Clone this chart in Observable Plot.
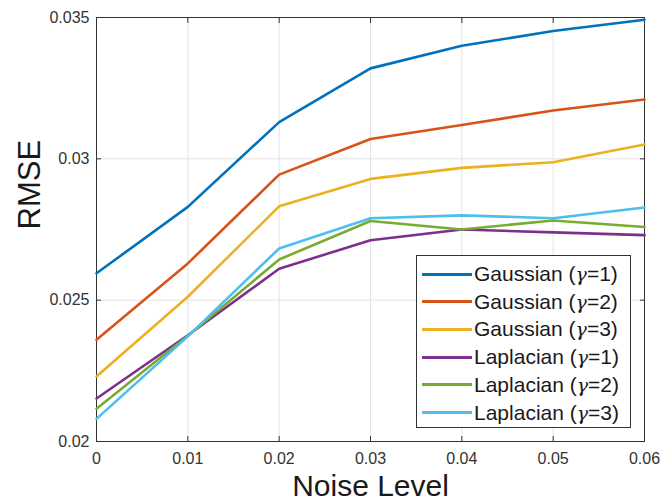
<!DOCTYPE html>
<html>
<head>
<meta charset="utf-8">
<script src="https://cdn.jsdelivr.net/npm/d3@7"></script>
<script src="https://cdn.jsdelivr.net/npm/@observablehq/plot@0.6"></script>
<style>
  body { margin: 0; background: #fff; font-family: "Liberation Sans", Arial, sans-serif; }
  #wrap { position: relative; width: 664px; height: 504px; }
  #legend { position: absolute; left: 416px; top: 255px; width: 213px; height: 171px;
    border: 1px solid #333; background: #fff; box-sizing: content-box; }
  .row { position: absolute; left: 0; height: 28px; display: flex; align-items: center; }
  .sw { width: 50px; height: 3px; margin-left: 5px; margin-right: 2px; }
  .lab { font-size: 21px; color: #1a1a1a; white-space: nowrap; }
  .lab i { font-family: "DejaVu Serif", serif; font-size: 19px; }
</style>
</head>
<body>
<div id="wrap"></div>
<script>
const noise = [0, 0.01, 0.02, 0.03, 0.04, 0.05, 0.06];
const seriesNames = ["Gaussian (γ=1)", "Gaussian (γ=2)", "Gaussian (γ=3)", "Laplacian (γ=1)", "Laplacian (γ=2)", "Laplacian (γ=3)"];
const gauss1 = [0.02595, 0.0283, 0.0313, 0.0332, 0.0340, 0.03452, 0.03492];
const gauss2 = [0.0236, 0.0263, 0.02944, 0.0307, 0.0312, 0.03171, 0.0321];
const gauss3 = [0.0223, 0.02512, 0.02832, 0.02929, 0.02968, 0.02988, 0.03051];
const lap1 = [0.02152, 0.02376, 0.02611, 0.02712, 0.0275, 0.0274, 0.0273];
const lap2 = [0.02116, 0.02374, 0.02644, 0.0278, 0.0275, 0.02782, 0.02759];
const lap3 = [0.0208, 0.02372, 0.02683, 0.0279, 0.0280, 0.0279, 0.02828];
const colors = ["#0072BD", "#D95319", "#EDB120", "#7E2F8E", "#77AC30", "#4DBEEE"];
const xTicks = [0, 0.01, 0.02, 0.03, 0.04, 0.05, 0.06];
const yTicks = [0.02, 0.025, 0.03, 0.035];
const xLabel = "Noise Level";
const yLabel = "RMSE";

const allSeries = [gauss1, gauss2, gauss3, lap1, lap2, lap3];
const table = [];
allSeries.forEach((vals, i) => vals.forEach((v, j) => table.push({series: seriesNames[i], x: noise[j], y: v})));

const fmt = d => String(+d.toFixed(4));

const chart = Plot.plot({
  width: 664,
  height: 504,
  marginLeft: 96,
  marginRight: 20,
  marginTop: 17,
  marginBottom: 63,
  style: {fontFamily: "'Liberation Sans', Arial, sans-serif", color: "#333", background: "#fff"},
  x: {domain: [0, 0.06], label: null},
  y: {domain: [0.02, 0.035], label: null},
  color: {domain: seriesNames, range: colors},
  marks: [
    Plot.gridX(xTicks.slice(1, -1), {stroke: "#e3e3e3", strokeOpacity: 1}),
    Plot.gridY(yTicks.slice(1, -1), {stroke: "#e3e3e3", strokeOpacity: 1}),
    Plot.axisX(xTicks, {anchor: "bottom", tickSize: -5, tickPadding: 16, tickFormat: fmt, fontSize: 16, stroke: "#333", fill: "#333"}),
    Plot.axisX(xTicks, {anchor: "top", tickSize: -5, tickFormat: () => "", stroke: "#333"}),
    Plot.axisY(yTicks, {anchor: "left", tickSize: -5, tickPadding: 12, tickFormat: fmt, fontSize: 16, stroke: "#333", fill: "#333"}),
    Plot.axisY(yTicks, {anchor: "right", tickSize: -5, tickFormat: () => "", stroke: "#333"}),
    Plot.frame({stroke: "#333", strokeWidth: 1}),
    Plot.line(table, {x: "x", y: "y", z: "series", stroke: "series", strokeWidth: 2.6}),
    Plot.text([xLabel], {frameAnchor: "bottom", dy: 45, fontSize: 30, fill: "#1a1a1a", lineAnchor: "middle"}),
    Plot.text([yLabel], {frameAnchor: "left", dx: -66, rotate: -90, fontSize: 31, fill: "#1a1a1a"})
  ]
});
const wrap = document.getElementById("wrap");
wrap.appendChild(chart);

const legend = document.createElement("div");
legend.id = "legend";
seriesNames.forEach((name, i) => {
  const row = document.createElement("div");
  row.className = "row";
  row.style.top = (4 + i * 27.7) + "px";
  const sw = document.createElement("div");
  sw.className = "sw";
  sw.style.background = colors[i];
  const lab = document.createElement("span");
  lab.className = "lab";
  const m = name.match(/^(.*\()γ(=.*)$/);
  lab.innerHTML = m[1] + "<i>γ</i>" + m[2];
  row.appendChild(sw);
  row.appendChild(lab);
  legend.appendChild(row);
});
wrap.appendChild(legend);
</script>
</body>
</html>
